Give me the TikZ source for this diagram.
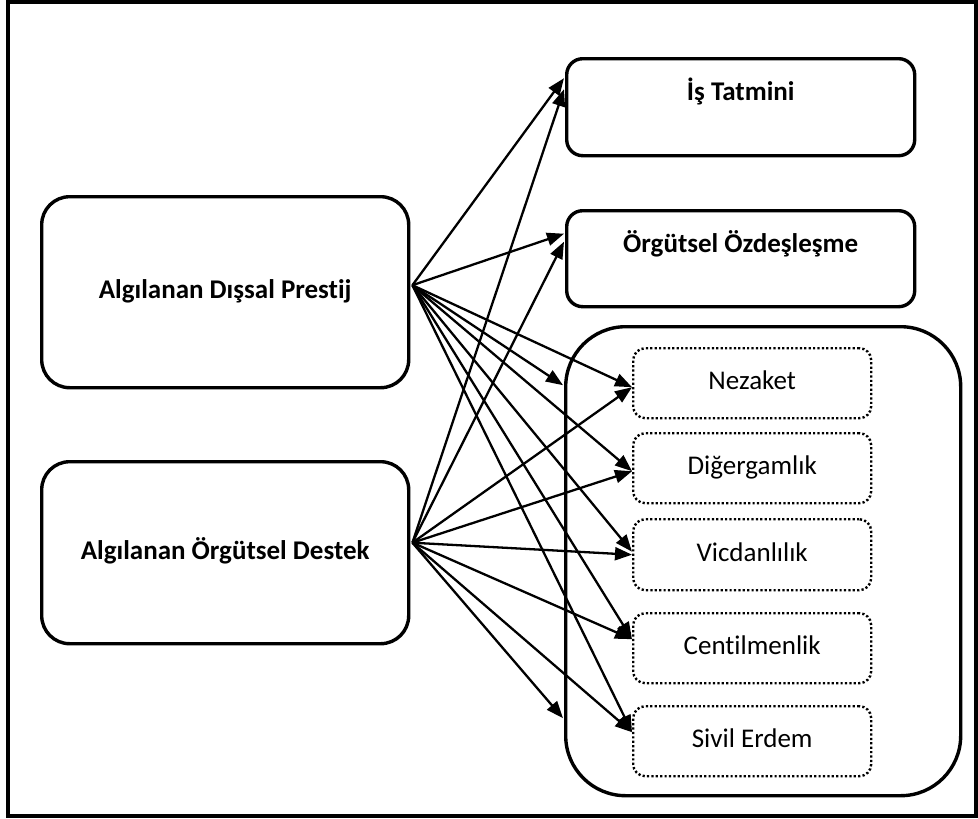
\documentclass[tikz,border=0pt]{standalone}
\usepackage{fontspec}
\setmainfont{Carlito}[Ligatures=NoCommon]
\usetikzlibrary{arrows.meta}
\begin{document}
\begin{tikzpicture}[x=1pt,y=-1pt,
  leftbox/.style={draw, line width=3.4pt, rounded corners=28pt, inner sep=0pt, anchor=north west,
    minimum width=367pt, font=\fontsize{27}{32}\selectfont\bfseries, text height=18pt, text depth=5pt},
  topbox/.style={draw, line width=3.4pt, rounded corners=16pt, inner sep=0pt, anchor=north west,
    minimum width=348pt, font=\fontsize{27}{32}\selectfont\bfseries, text height=42pt, text depth=55pt},
  groupbox/.style={draw, line width=3.4pt, rounded corners=60pt, inner sep=0pt, anchor=north west,
    minimum width=395pt, minimum height=469pt},
  dimbox/.style={draw, line width=2.4pt, dash pattern=on 2.2pt off 2.2pt, rounded corners=12pt, inner sep=0pt,
    anchor=north west, minimum width=238pt, font=\fontsize{27}{32}\selectfont, text height=17pt, text depth=4pt},
  arr/.style={line width=2.3pt, -{Triangle[length=17pt,width=13pt]}}
]
\useasboundingbox (0,0) rectangle (978,819);
\draw[line width=3.6pt] (8,2) rectangle (976,816);

\node[leftbox, minimum height=191pt] (p1) at (40,195) {Algılanan Dışsal Prestij};
\node[leftbox, minimum height=182pt] (p2) at (40,460) {Algılanan Örgütsel Destek};

\node[topbox] (is) at (565,57) {İş Tatmini};
\node[topbox, text depth=54pt] (oz) at (565,209) {Örgütsel Özdeşleşme};

\node[groupbox] (grp) at (564,325) {};

\node[dimbox, minimum height=70pt] (nez) at (632,347) {Nezaket};
\node[dimbox, minimum height=70pt] (dig) at (632,432) {Diğergamlık};
\node[dimbox, minimum height=71pt] (vic) at (632,518) {Vicdanlılık};
\node[dimbox, minimum height=70pt] (cen) at (632,612) {Centilmenlik};
\node[dimbox, minimum height=70pt] (siv) at (632,705) {Sivil Erdem};

\coordinate (o1) at ([shift={(2,-7)}]p1.east);
\coordinate (o2) at ([shift={(2,-10)}]p2.east);

% from Algılanan Dışsal Prestij
\draw[arr] (o1) -- ([shift={(-1,-29)}]is.west);
\draw[arr] (o1) -- ([shift={(-1,-25)}]oz.west);
\draw[arr] (o1) -- ([shift={(-1,-176)}]grp.west);
\draw[arr] (o1) -- ([shift={(0,4)}]nez.west);
\draw[arr] (o1) -- ([shift={(0,3)}]dig.west);
\draw[arr] (o1) -- ([shift={(0,-3)}]vic.west);
\draw[arr] (o1) -- ([shift={(0,-9)}]cen.west);
\draw[arr] (o1) -- ([shift={(0,-9)}]siv.west);

% from Algılanan Örgütsel Destek
\draw[arr] (o2) -- ([shift={(-1,-18)}]is.west);
\draw[arr] (o2) -- ([shift={(-1,-17)}]oz.west);
\draw[arr] (o2) -- ([shift={(0,4)}]nez.west);
\draw[arr] (o2) -- ([shift={(0,3)}]dig.west);
\draw[arr] (o2) -- ([shift={(0,0)}]vic.west);
\draw[arr] (o2) -- ([shift={(0,-9)}]cen.west);
\draw[arr] (o2) -- ([shift={(-1,157)}]grp.west);
\draw[arr] (o2) -- ([shift={(0,-9)}]siv.west);
\end{tikzpicture}
\end{document}
